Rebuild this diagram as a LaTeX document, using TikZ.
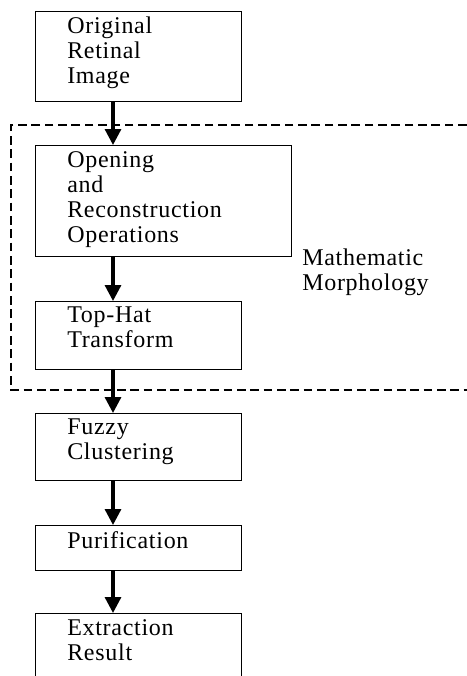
\documentclass[tikz,border=0pt]{standalone}
\usepackage{fontspec}
\setmainfont{Liberation Serif}
\newfontfamily\tmsfont[LetterSpace=3]{Liberation Serif}
\usetikzlibrary{arrows.meta}
\begin{document}
\begin{tikzpicture}[x=0.75pt,y=-0.75pt,
 box/.style={draw,line width=0.9pt,rectangle,anchor=north west,inner sep=0,minimum width=154.5pt},
 txt/.style={anchor=north west,inner sep=0,align=left,font=\tmsfont\fontsize{18}{18.75}\selectfont},
 intxt/.style={txt,xshift=24pt,yshift=-4.5pt},
 arr/.style={line width=2.4pt,-{Triangle[width=12pt,length=12pt]}},
 grp/.style={line width=2.2pt,dash pattern=on 6.5pt off 3.5pt}]
\useasboundingbox (0,0) rectangle (467,676);
\clip (0,0) rectangle (467,676);
\fill[white] (0,0) rectangle (467,676);
% group frame
\draw[grp] (480,125) -| (11,390) -- (480,390);
% boxes
\node[box,minimum height=67.5pt] (b1) at (35,11) {};
\node[box,minimum width=192pt,minimum height=83.25pt] (b2) at (35,145) {};
\node[box,minimum height=51pt] (b3) at (35,301) {};
\node[box,minimum height=50.25pt] (b4) at (35,413) {};
\node[box,minimum height=33.75pt] (b5) at (35,525) {};
\node[box,minimum height=60pt] (b6) at (35,613) {};
% texts
\node[intxt] (t1) at (b1.north west) {Original\\Retinal\\Image};
\node[intxt] (t2) at (b2.north west) {Opening\\and\\Reconstruction\\Operations};
\node[intxt] (t3) at (b3.north west) {Top-Hat\\Transform};
\node[intxt] (t4) at (b4.north west) {Fuzzy\\Clustering};
\node[intxt] (t5) at (b5.north west) {Purification};
\node[intxt] (t6) at (b6.north west) {Extraction\\Result};
\node[txt] (mm) at (302,249) {Mathematic\\Morphology};
% arrows
\coordinate (ax) at (113,0);
\draw[arr] (b1.south -| ax) -- (b2.north -| ax);
\draw[arr] (b2.south -| ax) -- (b3.north -| ax);
\draw[arr] (b3.south -| ax) -- (b4.north -| ax);
\draw[arr] (b4.south -| ax) -- (b5.north -| ax);
\draw[arr] (b5.south -| ax) -- (b6.north -| ax);
\end{tikzpicture}
\end{document}
